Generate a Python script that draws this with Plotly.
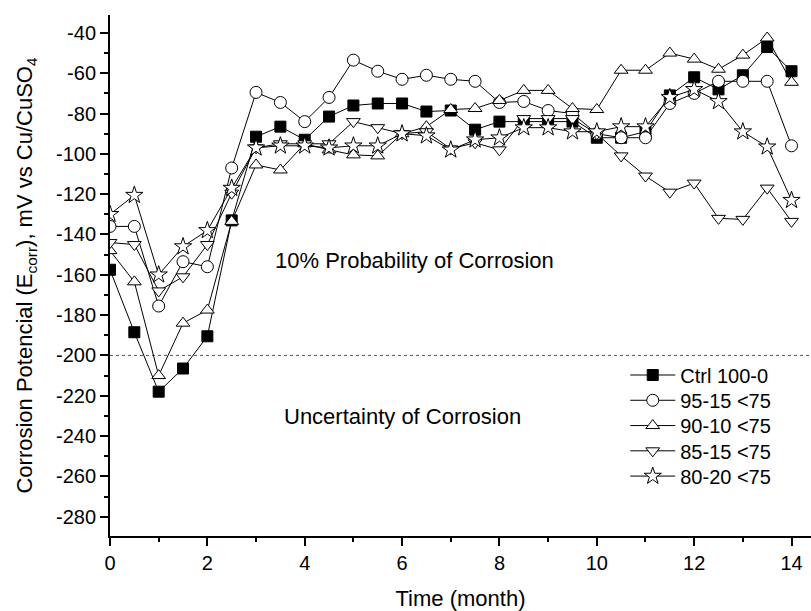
import plotly.graph_objects as go

months = [0, 0.5, 1, 1.5, 2, 2.5, 3, 3.5, 4, 4.5, 5, 5.5, 6, 6.5, 7, 7.5,
          8, 8.5, 9, 9.5, 10, 10.5, 11, 11.5, 12, 12.5, 13, 13.5, 14]

ctrl_100_0 = [-157.5, -188.5, -218, -206.5, -190.5, -133, -91.5, -86.5, -93, -81.5,
              -76, -75, -75, -79, -78.5, -88, -84, -84, -84, -84,
              -92, -92, -89, -71, -62, -68, -61, -47, -59]
s_95_15 = [-136, -136, -175.5, -153.5, -156, -107, -69.5, -74.5, -84, -72,
           -53.5, -59, -63, -61, -63, -64, -74.5, -74, -78.5, -80,
           -90, -92, -92, -75, -70, -64, -64, -64, -96]
s_90_10 = [-148, -163.5, -210, -184, -177.5, -133.5, -105.5, -108, -95, -98,
           -100.5, -101, -90, -86.5, -78, -77.5, -73.5, -68.5, -68.5, -77.5,
           -78, -58.5, -58.5, -50, -53, -58, -51, -42.5, -64.5]
s_85_15 = [-144, -145, -168, -161, -145, -119.5, -97, -95, -95, -95,
           -84, -87, -90, -89, -97.5, -94.5, -98, -82.5, -82.5, -82.5,
           -90, -101, -111, -119, -114.5, -132, -132.5, -117, -133.5]
s_80_20 = [-130, -120.5, -160, -146, -138, -117, -97, -96, -96, -97,
           -96, -96, -90, -91, -98, -93, -92, -87, -87, -89,
           -89, -86.5, -86.5, -72, -68, -74, -89, -96.5, -123]

series_names = ["Ctrl 100-0", "95-15 <75", "90-10 <75", "85-15 <75", "80-20 <75"]
series_values = [ctrl_100_0, s_95_15, s_90_10, s_85_15, s_80_20]
symbols = ["square", "circle", "triangle-up", "triangle-down", "star"]
fills = ["black", "white", "white", "white", "white"]
sizes = [11, 12, 12, 12, 13]

x_ticks = [0, 2, 4, 6, 8, 10, 12, 14]
x_tick_labels = ["0", "2", "4", "6", "8", "10", "12", "14"]
y_ticks = [-40, -60, -80, -100, -120, -140, -160, -180, -200, -220, -240, -260, -280]
y_tick_labels = ["-40", "-60", "-80", "-100", "-120", "-140", "-160", "-180", "-200",
                 "-220", "-240", "-260", "-280"]

FONT = "Liberation Sans, Arial, sans-serif"

# legend entry centres (paper fraction of plot height)
legend_ys = [0.309, 0.2605, 0.212, 0.1635, 0.115]
legend_ids = ["legend", "legend2", "legend3", "legend4", "legend5"]

fig = go.Figure()
for name, vals, sym, fc, sz, lg in zip(series_names, series_values, symbols, fills, sizes, legend_ids):
    fig.add_trace(go.Scatter(
        x=months, y=vals, name=name, mode="lines+markers", legend=lg,
        line=dict(color="black", width=1),
        marker=dict(symbol=sym, size=sz, color=fc, line=dict(color="black", width=1)),
    ))

fig.add_shape(type="line", xref="paper", yref="y", x0=0, x1=1, y0=-200, y1=-200,
              line=dict(color="#555555", width=1, dash="3px,3px"), layer="below")

fig.add_annotation(x=6.26, y=-152.7, text="10% Probability of Corrosion", showarrow=False,
                   font=dict(family=FONT, size=22, color="black"))
fig.add_annotation(x=6.0, y=-230.4, text="Uncertainty of Corrosion", showarrow=False,
                   font=dict(family=FONT, size=22, color="black"))

legend_common = dict(x=0.735, xanchor="left", yanchor="middle",
                     bgcolor="rgba(0,0,0,0)", borderwidth=0,
                     font=dict(family=FONT, size=20), itemwidth=45)
layout_legends = {}
for lg, ly in zip(legend_ids, legend_ys):
    layout_legends[lg] = dict(legend_common, y=ly)

fig.update_layout(
    width=811, height=611,
    margin=dict(l=110, r=0, t=15, b=75),
    plot_bgcolor="white", paper_bgcolor="white",
    font=dict(family=FONT, size=20, color="black"),
    showlegend=True,
    **layout_legends,
    xaxis=dict(range=[0, 14.4], tickvals=x_ticks, ticktext=x_tick_labels,
               showgrid=False, zeroline=False,
               showline=True, linecolor="black", linewidth=2,
               ticks="outside", ticklen=8, tickwidth=2, tickcolor="black",
               minor=dict(dtick=1, ticks="outside", ticklen=4, tickwidth=2, tickcolor="black"),
               tickfont=dict(size=20),
               title=dict(text="Time (month)", font=dict(size=22), standoff=18)),
    yaxis=dict(range=[-289.6, -31.1], tickvals=y_ticks, ticktext=y_tick_labels,
               showgrid=False, zeroline=False,
               showline=True, linecolor="black", linewidth=2,
               ticks="outside", ticklen=8, tickwidth=2, tickcolor="black",
               minor=dict(dtick=10, tick0=0, ticks="outside", ticklen=4, tickwidth=2, tickcolor="black"),
               tickfont=dict(size=20),
               title=dict(text="Corrosion Potencial (E<sub>corr</sub>), mV vs Cu/CuSO<sub>4</sub>",
                          font=dict(size=22), standoff=17)),
)

fig.write_html("out.html")
